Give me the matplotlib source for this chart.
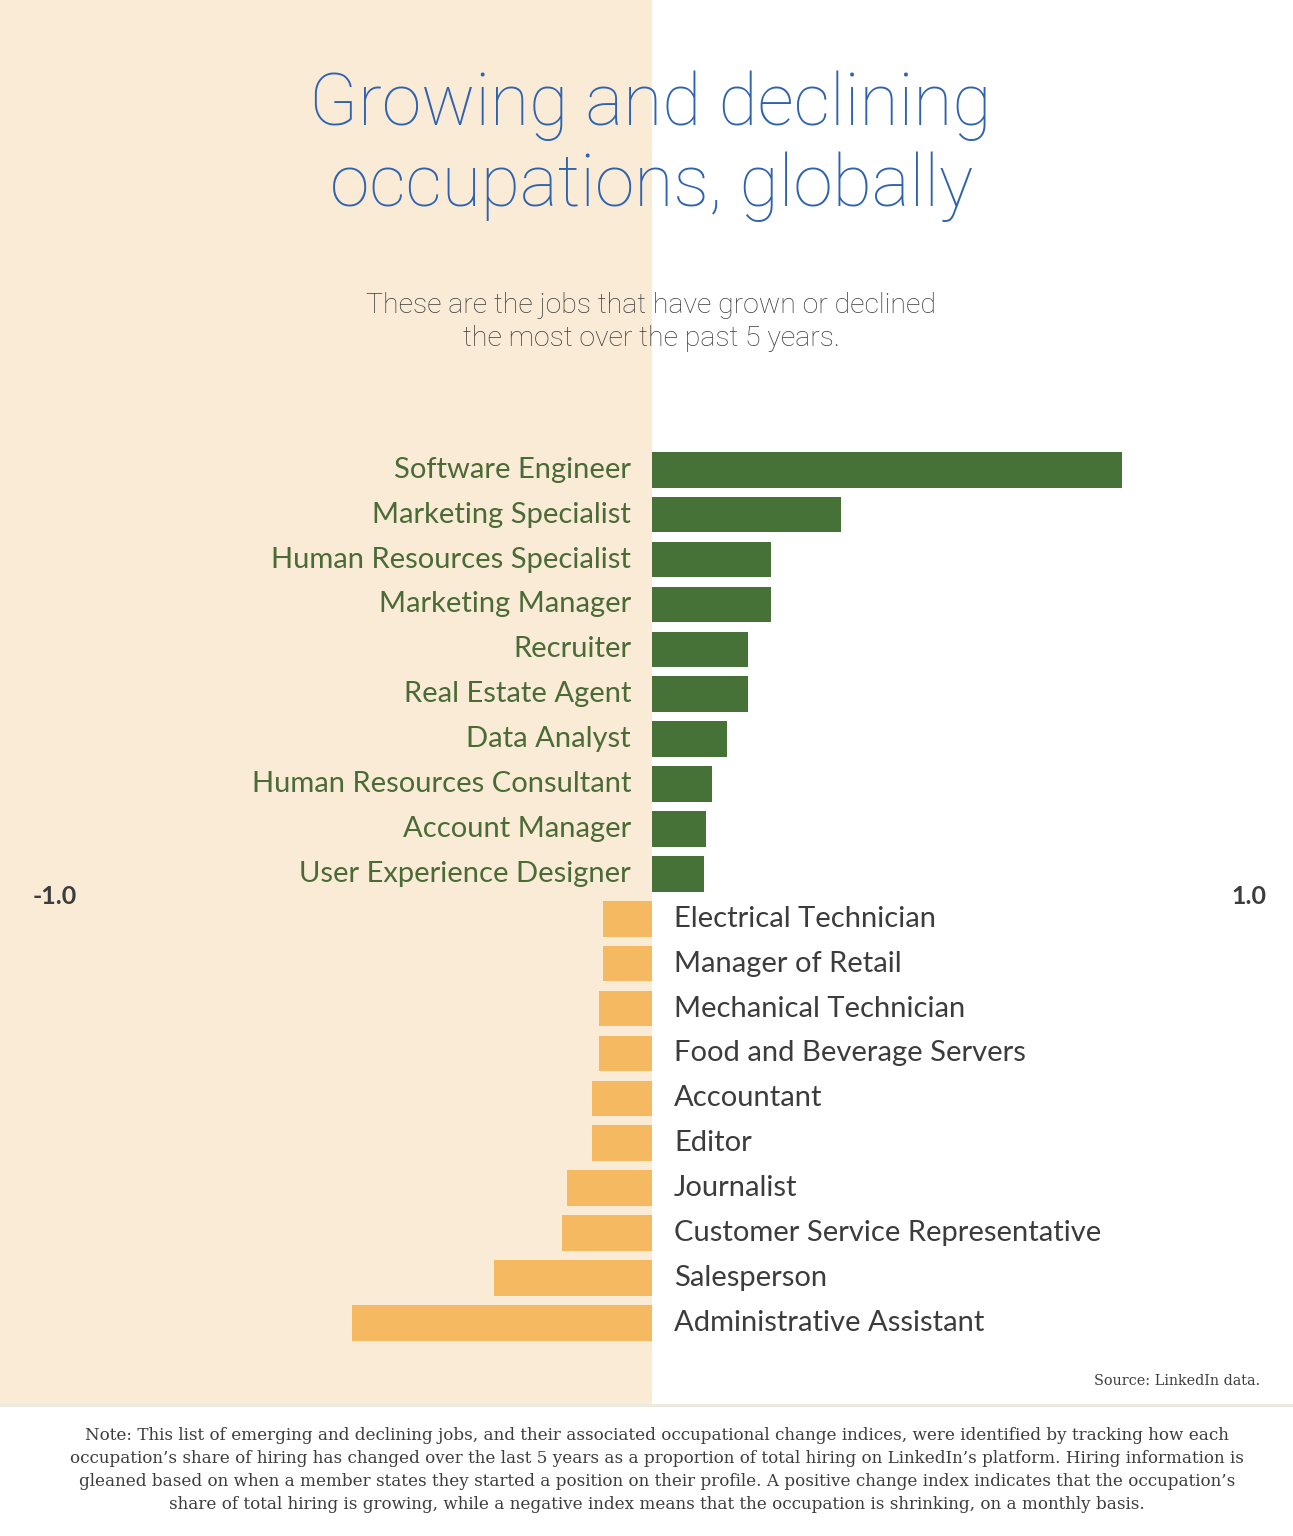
import matplotlib
matplotlib.use("Agg")
import matplotlib.pyplot as plt
from matplotlib.patches import Rectangle

# ---- data ----
growing_jobs = ["Software Engineer", "Marketing Specialist", "Human Resources Specialist",
                "Marketing Manager", "Recruiter", "Real Estate Agent", "Data Analyst",
                "Human Resources Consultant", "Account Manager", "User Experience Designer"]
growing_vals = [0.787, 0.317, 0.200, 0.200, 0.161, 0.161, 0.126, 0.101, 0.090, 0.087]

declining_jobs = ["Electrical Technician", "Manager of Retail", "Mechanical Technician",
                  "Food and Beverage Servers", "Accountant", "Editor", "Journalist",
                  "Customer Service Representative", "Salesperson", "Administrative Assistant"]
declining_vals = [-0.082, -0.082, -0.089, -0.089, -0.100, -0.100, -0.143, -0.151, -0.265, -0.502]

axis_ticks = [-1.0, 1.0]
axis_tick_labels = ["-1.0", "1.0"]

title_lines = ["Growing and declining", "occupations, globally"]
subtitle = "These are the jobs that have grown or declined\nthe most over the past 5 years."
source = "Source: LinkedIn data."
note = ("Note: This list of emerging and declining jobs, and their associated occupational change indices, were identified by tracking how each\n"
        "occupation\u2019s share of hiring has changed over the last 5 years as a proportion of total hiring on LinkedIn\u2019s platform. Hiring information is\n"
        "gleaned based on when a member states they started a position on their profile. A positive change index indicates that the occupation\u2019s\n"
        "share of total hiring is growing, while a negative index means that the occupation is shrinking, on a monthly basis.")

# ---- style ----
BEIGE = "#FAEBD7"
GREEN = "#467137"
GREEN_TXT = "#4A6B35"
ORANGE = "#F4B961"
BLUE = "#2F63AE"
DARK = "#3C3C3C"

W, H = 1293, 1536
fig = plt.figure(figsize=(W / 100, H / 100), dpi=100)
fig.patch.set_facecolor("white")

# background layer in pixel coordinates
bg = fig.add_axes([0, 0, 1, 1])
bg.set_xlim(0, W)
bg.set_ylim(H, 0)
bg.axis("off")
bg.add_patch(Rectangle((0, 0), 652, 1404, facecolor=BEIGE, edgecolor="none"))
bg.plot([0, W], [1404.5, 1404.5], color="#ECE8DF", lw=2)

# text
bg.text(650, 106, title_lines[0], ha="center", va="center", fontsize=51.5,
        family="Roboto", weight="light", color=BLUE)
bg.text(652, 187, title_lines[1], ha="center", va="center", fontsize=51.5,
        family="Roboto", weight="light", color=BLUE)
bg.text(651, 322, subtitle, ha="center", va="center", fontsize=20.4,
        family="Roboto", weight="light", color=DARK, linespacing=1.3)
bg.text(1260, 1381, source, ha="right", va="center", fontsize=10.4,
        family="DejaVu Serif", color=DARK)
bg.text(657, 1470, note, ha="center", va="center", fontsize=12.1,
        family="DejaVu Serif", color=DARK, linespacing=1.45)

# ---- bars ----
n_g = len(growing_jobs)
n = n_g + len(declining_jobs)
px_per_unit = 597.0
x0_px = 652.0
xmin = -x0_px / px_per_unit
xmax = (W - x0_px) / px_per_unit

row_top_px = 447.3
row_pitch = 44.9
ax_top = row_top_px
ax_bot = row_top_px + row_pitch * n
ax = fig.add_axes([0, 1 - ax_bot / H, 1, (ax_bot - ax_top) / H])
ax.set_xlim(xmin, xmax)
ax.set_ylim(n - 0.5, -0.5)
ax.axis("off")
ax.patch.set_alpha(0)

g_pos = list(range(n_g))
d_pos = list(range(n_g, n))
ax.barh(g_pos, growing_vals, height=0.795, color=GREEN, edgecolor="none")
ax.barh(d_pos, declining_vals, height=0.795, color=ORANGE, edgecolor="none")

lab_off = 21 / px_per_unit
for p, name in zip(g_pos, growing_jobs):
    ax.text(-lab_off, p, name, ha="right", va="center", fontsize=21,
            family="Lato", color=GREEN_TXT)
for p, name in zip(d_pos, declining_jobs):
    ax.text(lab_off * 1.05, p, name, ha="left", va="center", fontsize=21,
            family="Lato", color=DARK)

mid = (g_pos[-1] + d_pos[0]) / 2
for t, lab in zip(axis_ticks, axis_tick_labels):
    ax.text(t, mid, lab, ha="center", va="center", fontsize=18,
            family="Lato", weight="bold", color=DARK)

fig.savefig("out.png", dpi=100, facecolor=fig.get_facecolor())
